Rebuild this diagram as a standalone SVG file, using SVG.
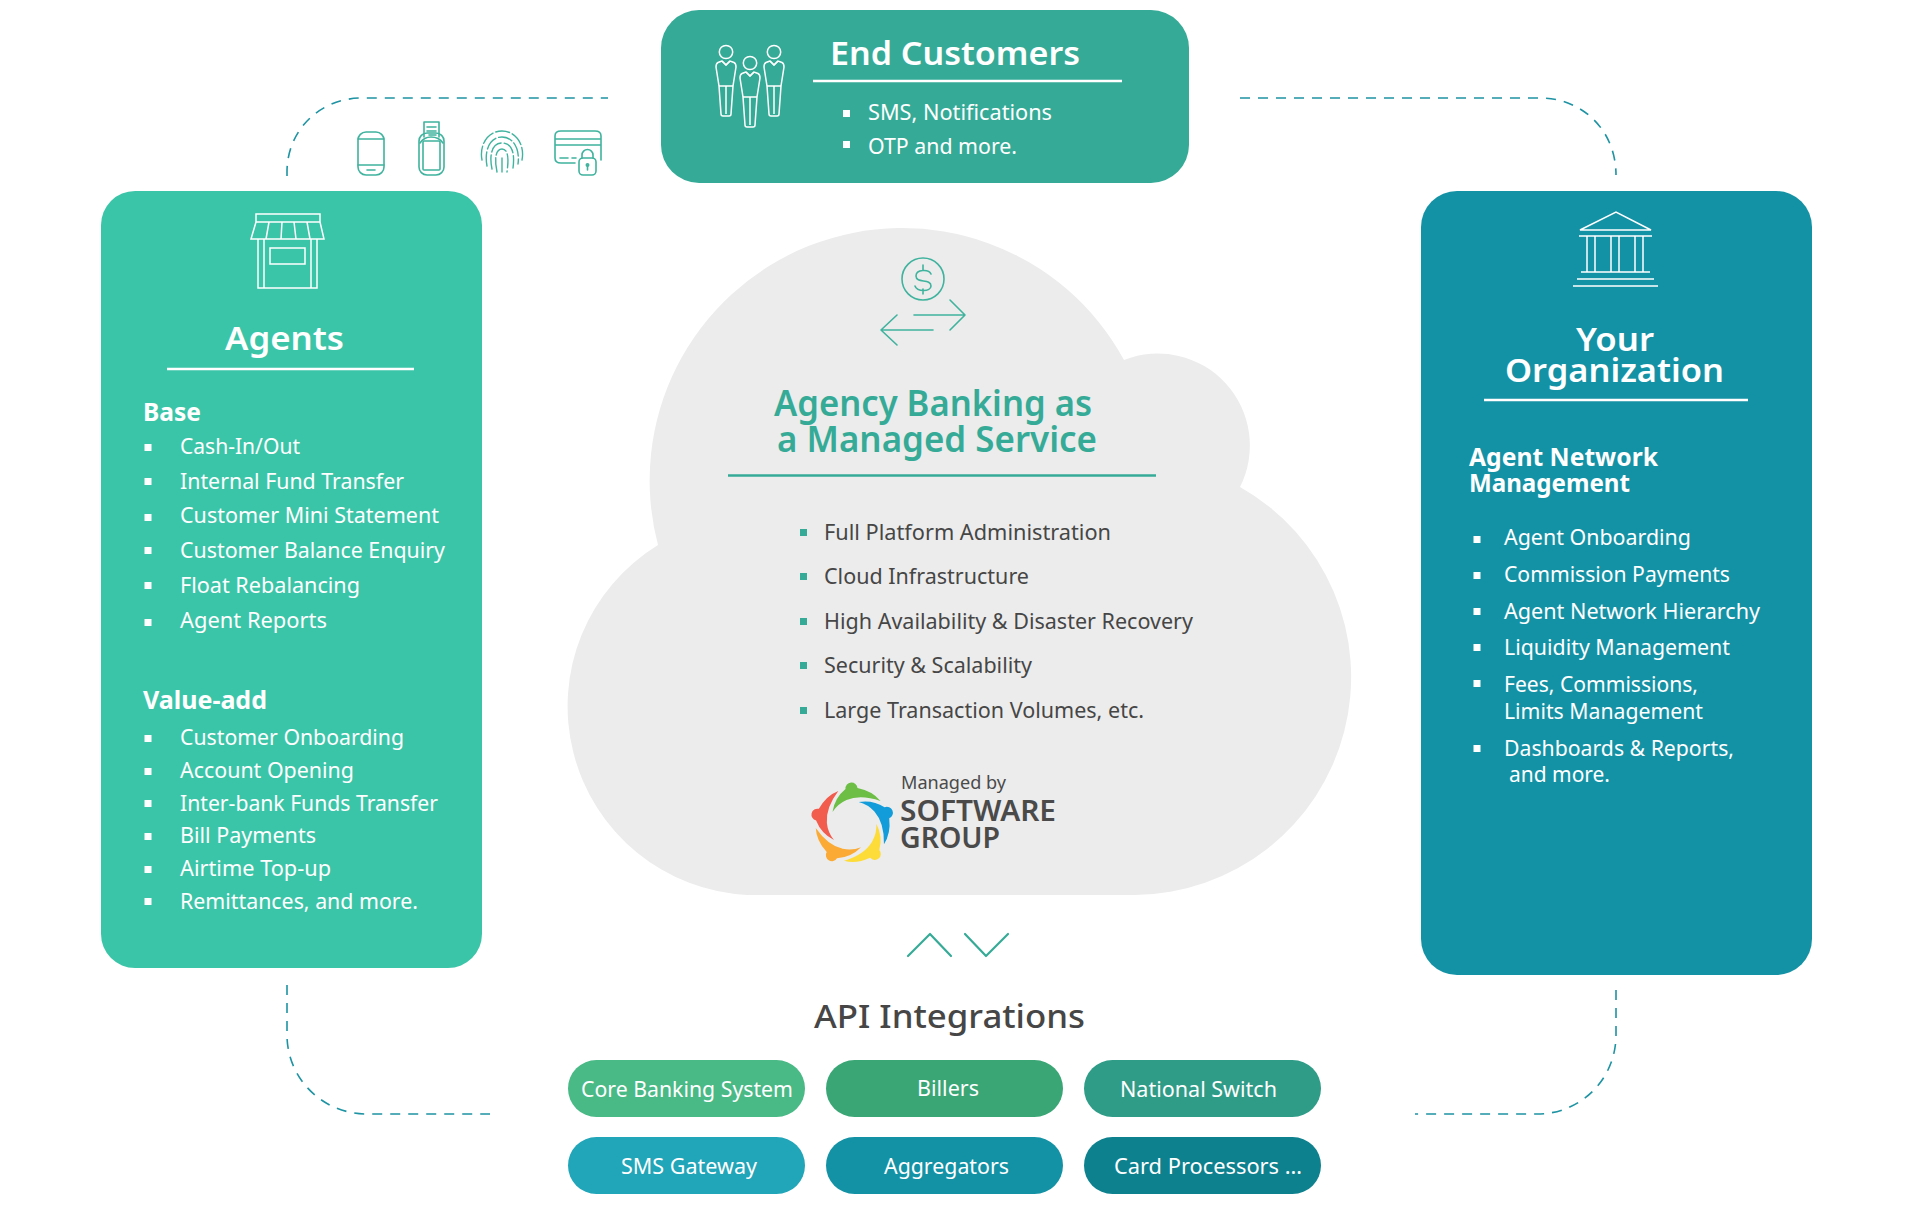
<svg xmlns="http://www.w3.org/2000/svg" xmlns:xlink="http://www.w3.org/1999/xlink" width="1920" height="1206" viewBox="0 0 1920 1206">
<style>
text{font-family:"Noto Sans","Open Sans","Liberation Sans",sans-serif;}
.w{fill:#fff}
.h{font-size:33px;font-weight:600}
.sh{font-size:25px;font-weight:700}
.i{font-size:22px}
.c{fill:#464646;font-size:22px}
.pl{fill:#fff;font-size:22px}
.ic{fill:none;stroke:#fff;stroke-width:1.5}
.tc{fill:none;stroke:#3fb39e;stroke-width:1.6;stroke-linecap:round;stroke-linejoin:round}
.dash{fill:none;stroke:#1d93a3;stroke-width:1.6;stroke-dasharray:10 8}
.bw{fill:#fff}
.bt{fill:#35ab97}
.rule{stroke:#fff;stroke-width:2.4}
</style>
<defs>
<g id="person" class="ic">
<ellipse cx="0" cy="-9" rx="6.7" ry="6.6"/>
<path d="M-4 0L-8 1.5Q-10 2.5-10 6L-7 25L-5 53Q-5 55-3 55H3Q5 55 5 53L7 25L10 6Q10 2.5 8 1.5L4 0L0 4Z"/>
<path d="M-7 25H7M0 25V53M-4 0L0 4L4 0"/>
</g>
<path id="petal" d="M-20-13Q-18-27-7-36A5.5 5.5 0 0 1 5-37Q20-34 28-24Q8-31-6-25Q-15-21-20-13Z"/>
</defs>

<g id="connectors">
<path class="dash" d="M287 176V172C287 130 320 98 362 98H608"/>
<path class="dash" d="M1240 98H1540C1582 98 1616 130 1616 175"/>
<path class="dash" d="M287 985V1035C287 1078 322 1114 367 1114H490"/>
<path class="dash" d="M1616 990V1035C1616 1078 1582 1114 1537 1114H1415"/>
<path fill="none" stroke="#35ab97" stroke-width="2.2" stroke-linecap="round" stroke-linejoin="round" d="M908 956L930 934L951 956M965 934L986 956L1008 934"/>
</g>

<g id="cloud">
<path fill="#ececec" d="M747 895A189 189 0 0 1 658 545A252.500 252.500 0 0 1 1124 360A92 92 0 0 1 1240 487A218 218 0 0 1 1135 895Z"/>
<g class="tc">
<circle cx="923" cy="279" r="21"/>
<path d="M931 274C929 269 916 269 916 276C916 284 931 278 931 286C931 292 917 292 915 286M923 265V270M923 289V294"/>
<path d="M914 315H965M950 300L965 315L950 330M933 330H881M897 315L881 330L897 345"/>
</g>
<text x="774" y="416" fill="#35ab97" font-size="36" font-weight="600" textLength="318" lengthAdjust="spacingAndGlyphs">Agency Banking as</text>
<text x="777" y="452" fill="#35ab97" font-size="36" font-weight="600" textLength="320" lengthAdjust="spacingAndGlyphs">a Managed Service</text>
<line x1="728" y1="475.500" x2="1156" y2="475.500" stroke="#35ab97" stroke-width="2.400"/>
<g>
<rect class="bt" x="800" y="529" width="7" height="7"/>
<rect class="bt" x="800" y="573" width="7" height="7"/>
<rect class="bt" x="800" y="618" width="7" height="7"/>
<rect class="bt" x="800" y="662" width="7" height="7"/>
<rect class="bt" x="800" y="707" width="7" height="7"/>
</g>
<text class="c" x="824" y="540" textLength="287" lengthAdjust="spacingAndGlyphs">Full Platform Administration</text>
<text class="c" x="824" y="584" textLength="205" lengthAdjust="spacingAndGlyphs">Cloud Infrastructure</text>
<text class="c" x="824" y="629" textLength="369" lengthAdjust="spacingAndGlyphs">High Availability &amp; Disaster Recovery</text>
<text class="c" x="824" y="673" textLength="208" lengthAdjust="spacingAndGlyphs">Security &amp; Scalability</text>
<text class="c" x="824" y="718" textLength="320" lengthAdjust="spacingAndGlyphs">Large Transaction Volumes, etc.</text>
<g transform="translate(852.500 825)">
<use xlink:href="#petal" fill="#6cbe45"/>
<use xlink:href="#petal" fill="#129cda" transform="rotate(72)"/>
<use xlink:href="#petal" fill="#fddc3a" transform="rotate(144)"/>
<use xlink:href="#petal" fill="#fbab35" transform="rotate(216)"/>
<use xlink:href="#petal" fill="#f25c4d" transform="rotate(288)"/>
</g>
<text x="901" y="789" fill="#4a4a4a" font-size="18" textLength="105" lengthAdjust="spacingAndGlyphs">Managed by</text>
<text x="900" y="821" fill="#4a4a4a" font-size="29" font-weight="600" textLength="156" lengthAdjust="spacingAndGlyphs">SOFTWARE</text>
<text x="900" y="848" fill="#4a4a4a" font-size="29" font-weight="600" textLength="100" lengthAdjust="spacingAndGlyphs">GROUP</text>
</g>

<g id="end-customers">
<rect x="661" y="10" width="528" height="173" rx="38" fill="#35ab97"/>
<use xlink:href="#person" x="726" y="61"/>
<use xlink:href="#person" x="750" y="72"/>
<use xlink:href="#person" x="774" y="61"/>
<text class="w h" x="830" y="65" textLength="250" lengthAdjust="spacingAndGlyphs">End Customers</text>
<line class="rule" x1="813" y1="81" x2="1122" y2="81"/>
<rect class="bw" x="843" y="110" width="7" height="7"/>
<rect class="bw" x="843" y="141" width="7" height="7"/>
<text class="w i" x="868" y="120" textLength="184" lengthAdjust="spacingAndGlyphs">SMS, Notifications</text>
<text class="w i" x="868" y="154" textLength="149" lengthAdjust="spacingAndGlyphs">OTP and more.</text>
</g>

<g id="channel-icons" class="tc">
<rect x="358" y="132" width="26" height="43" rx="8"/>
<path d="M358 139H384M358 165H384M367 170H375"/>
<rect x="419" y="133" width="25" height="42" rx="8"/>
<path d="M420 143Q424 137 431 137Q439 137 443 143"/>
<rect x="423" y="141" width="17" height="29" rx="1"/>
<path d="M424 137V122H439V137M427 127H436M427 131H436M429 135H436"/>
<g stroke-width="1.400" stroke-dasharray="14 3">
<path d="M482 160C479 145 488 131 502 131C516 131 525 145 522 160"/>
<path d="M487 166C484 150 490 137 502 137C514 137 520 150 518 164"/>
<path d="M492 169C489 155 492 143 502 143C512 143 515 153 513 168"/>
<path d="M497 172C494 158 496 149 502 149C508 149 509 158 507 172"/>
<path d="M502 172V155"/>
</g>
<path d="M575 163H561Q555 163 555 158V136Q555 131 561 131H595Q601 131 601 136V160M555 139H601M555 145H601M560 158H568M572 158H576"/>
<rect x="579" y="158" width="17" height="17" rx="4"/>
<path d="M582 158V155A5.500 5.500 0 0 1 593 155V158M587.500 165V170"/>
<circle cx="587.500" cy="165" r="1.200"/>
</g>

<g id="agents">
<rect x="101" y="191" width="381" height="777" rx="34" fill="#3bc5a8"/>
<path class="ic" d="M256 222V214H320V222M251 239L256 222H320L324 239ZM258 239V288H317V239M264 239V288M311 239V288M270 248H305V264H270ZM266 239L269 222M281 239L282 222M296 239L294 222M310 239L307 222"/>
<text class="w h" x="225" y="350" textLength="119" lengthAdjust="spacingAndGlyphs">Agents</text>
<line class="rule" x1="167" y1="369" x2="414" y2="369"/>
<text class="w sh" x="143" y="421" textLength="58" lengthAdjust="spacingAndGlyphs">Base</text>
<g class="bw">
<rect x="144.500" y="444" width="7" height="7"/><rect x="144.500" y="478" width="7" height="7"/><rect x="144.500" y="514" width="7" height="7"/><rect x="144.500" y="547" width="7" height="7"/><rect x="144.500" y="582" width="7" height="7"/><rect x="144.500" y="619" width="7" height="7"/>
<rect x="144.500" y="735" width="7" height="7"/><rect x="144.500" y="768" width="7" height="7"/><rect x="144.500" y="800" width="7" height="7"/><rect x="144.500" y="833" width="7" height="7"/><rect x="144.500" y="866" width="7" height="7"/><rect x="144.500" y="898" width="7" height="7"/>
</g>
<text class="w i" x="180" y="454" textLength="120" lengthAdjust="spacingAndGlyphs">Cash-In/Out</text>
<text class="w i" x="180" y="489" textLength="224" lengthAdjust="spacingAndGlyphs">Internal Fund Transfer</text>
<text class="w i" x="180" y="523" textLength="259" lengthAdjust="spacingAndGlyphs">Customer Mini Statement</text>
<text class="w i" x="180" y="558" textLength="265" lengthAdjust="spacingAndGlyphs">Customer Balance Enquiry</text>
<text class="w i" x="180" y="593" textLength="180" lengthAdjust="spacingAndGlyphs">Float Rebalancing</text>
<text class="w i" x="180" y="628" textLength="147" lengthAdjust="spacingAndGlyphs">Agent Reports</text>
<text class="w sh" x="143" y="709" textLength="124" lengthAdjust="spacingAndGlyphs">Value-add</text>
<text class="w i" x="180" y="745" textLength="224" lengthAdjust="spacingAndGlyphs">Customer Onboarding</text>
<text class="w i" x="180" y="778" textLength="174" lengthAdjust="spacingAndGlyphs">Account Opening</text>
<text class="w i" x="180" y="811" textLength="258" lengthAdjust="spacingAndGlyphs">Inter-bank Funds Transfer</text>
<text class="w i" x="180" y="843" textLength="136" lengthAdjust="spacingAndGlyphs">Bill Payments</text>
<text class="w i" x="180" y="876" textLength="151" lengthAdjust="spacingAndGlyphs">Airtime Top-up</text>
<text class="w i" x="180" y="909" textLength="238" lengthAdjust="spacingAndGlyphs">Remittances, and more.</text>
</g>

<g id="your-organization">
<rect x="1421" y="191" width="391" height="784" rx="36" fill="#1492a5"/>
<path class="ic" d="M1580 230L1616 212L1651 230ZM1579 236H1652M1587 236V272M1595 236V272M1611 236V272M1619 236V272M1635 236V272M1643 236V272M1581 272H1650M1577 279H1654M1573 286H1658"/>
<text class="w h" x="1576" y="351" textLength="78" lengthAdjust="spacingAndGlyphs">Your</text>
<text class="w h" x="1505" y="382" textLength="219" lengthAdjust="spacingAndGlyphs">Organization</text>
<line class="rule" x1="1484" y1="400" x2="1748" y2="400"/>
<text class="w sh" x="1469" y="466" textLength="189" lengthAdjust="spacingAndGlyphs">Agent Network</text>
<text class="w sh" x="1469" y="492" textLength="161" lengthAdjust="spacingAndGlyphs">Management</text>
<g class="bw">
<rect x="1473.500" y="536" width="7" height="7"/><rect x="1473.500" y="572" width="7" height="7"/><rect x="1473.500" y="608" width="7" height="7"/><rect x="1473.500" y="644" width="7" height="7"/><rect x="1473.500" y="680" width="7" height="7"/><rect x="1473.500" y="745" width="7" height="7"/>
</g>
<text class="w i" x="1504" y="545" textLength="187" lengthAdjust="spacingAndGlyphs">Agent Onboarding</text>
<text class="w i" x="1504" y="582" textLength="226" lengthAdjust="spacingAndGlyphs">Commission Payments</text>
<text class="w i" x="1504" y="619" textLength="256" lengthAdjust="spacingAndGlyphs">Agent Network Hierarchy</text>
<text class="w i" x="1504" y="655" textLength="226" lengthAdjust="spacingAndGlyphs">Liquidity Management</text>
<text class="w i" x="1504" y="692" textLength="194" lengthAdjust="spacingAndGlyphs">Fees, Commissions,</text>
<text class="w i" x="1504" y="719" textLength="199" lengthAdjust="spacingAndGlyphs">Limits Management</text>
<text class="w i" x="1504" y="756" textLength="230" lengthAdjust="spacingAndGlyphs">Dashboards &amp; Reports,</text>
<text class="w i" x="1509" y="782" textLength="101" lengthAdjust="spacingAndGlyphs">and more.</text>
</g>

<g id="api-integrations">
<text x="814" y="1028" fill="#464646" font-size="33" font-weight="500" textLength="271" lengthAdjust="spacingAndGlyphs">API Integrations</text>
</g>
<g id="pill-core"><rect x="568" y="1060" width="237" height="57" rx="28.500" fill="#49b986"/><text class="pl" x="581" y="1097" textLength="212" lengthAdjust="spacingAndGlyphs">Core Banking System</text></g>
<g id="pill-billers"><rect x="826" y="1060" width="237" height="57" rx="28.500" fill="#3aa675"/><text class="pl" x="917" y="1096" textLength="62" lengthAdjust="spacingAndGlyphs">Billers</text></g>
<g id="pill-switch"><rect x="1084" y="1060" width="237" height="57" rx="28.500" fill="#2e9c87"/><text class="pl" x="1120" y="1097" textLength="157" lengthAdjust="spacingAndGlyphs">National Switch</text></g>
<g id="pill-sms"><rect x="568" y="1137" width="237" height="57" rx="28.500" fill="#21a5b9"/><text class="pl" x="621" y="1174" textLength="136" lengthAdjust="spacingAndGlyphs">SMS Gateway</text></g>
<g id="pill-aggregators"><rect x="826" y="1137" width="237" height="57" rx="28.500" fill="#1492a5"/><text class="pl" x="884" y="1174" textLength="125" lengthAdjust="spacingAndGlyphs">Aggregators</text></g>
<g id="pill-card"><rect x="1084" y="1137" width="237" height="57" rx="28.500" fill="#0e818f"/><text class="pl" x="1114" y="1174" textLength="188" lengthAdjust="spacingAndGlyphs">Card Processors …</text></g>
</svg>
